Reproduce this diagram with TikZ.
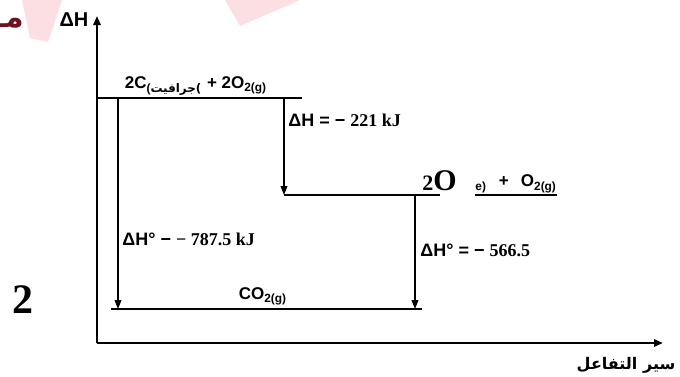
\documentclass[tikz,border=0pt]{standalone}
\usepackage{fontspec}
\setmainfont{Liberation Serif}
\setsansfont{Liberation Sans}
\newfontfamily\arabicfont[Script=Arabic]{DejaVu Sans}
\TeXXeTstate=1
\usepackage{tikz}
\usetikzlibrary{arrows.meta, positioning}
\definecolor{markRed}{HTML}{6E1020}
\definecolor{wmPink}{HTML}{F7B8C2}

\begin{document}
\begin{tikzpicture}[
    x=0.5pt, y=-0.5pt,
    level/.style={line width=0.7pt},
    axis/.style={-{Triangle[length=4.5pt, width=3.6pt]}, line width=1.3pt},
    drop/.style={-{Triangle[length=4.5pt, width=3.4pt]}, line width=0.6pt},
    lbl/.style={inner sep=0pt, font=\fontsize{9}{10}\selectfont},
    spec/.style={inner sep=0pt, font=\sffamily\bfseries\fontsize{8.5}{10}\selectfont},
]
\useasboundingbox (0,0) rectangle (680,376);

% Watermark
\fill[wmPink, opacity=0.45] (22,0) -- (62,0) -- (48,42) -- (30,38) -- cycle;
\fill[wmPink, opacity=0.45] (225,0) -- (240,26) -- (300,0) -- cycle;
\node[inner sep=0pt, anchor=east, text=markRed, font=\arabicfont\bfseries\fontsize{15}{15}\selectfont]
    (mark) at (24,23) {\beginR مـ\endR};
\node[inner sep=0pt, font=\rmfamily\bfseries\fontsize{21}{21}\selectfont] (num) at (23,300) {2};

% Axes
\coordinate (O) at (97,343);
\coordinate (ytop) at (97,16);
\coordinate (xend) at (663,343);
\draw[axis] (O) -- (ytop);
\draw[axis] (O) -- (xend);
\node[spec, font=\sffamily\bfseries\fontsize{10}{10}\selectfont] (dHaxis) at (74,20) {ΔH};
\node[inner sep=0pt, font=\arabicfont\bfseries\fontsize{8}{10}\selectfont]
    (path) at (626,365) {\beginR سير التفاعل\endR};

% Levels
\coordinate (r1) at (97,98);  \coordinate (r2) at (302,98);
\coordinate (i1) at (284,195); \coordinate (i2) at (440,195);
\coordinate (p1) at (111,309); \coordinate (p2) at (422,309);
\draw[level] (r1) -- (r2);
\draw[level] (i1) -- (i2);
\draw[level] (p1) -- (p2);

% Species
\node[spec] (react) at (196,86)
    {2C\textsubscript{(\arabicfont\beginR جرافيت\endR)} + 2O\textsubscript{2(g)}};
\node[inner sep=0pt, anchor=west, font=\rmfamily\bfseries] (co) at (422,181)
    {{\fontsize{11}{11}\selectfont 2}{\fontsize{15}{15}\selectfont O}};
\node[spec, anchor=south west] (oxy) at (475,193)
    {\textsubscript{e)}\hspace{6pt}+\hspace{6pt}O\textsubscript{2(g)}};
\draw[level] ([yshift=-1pt]oxy.south west) -- ([yshift=-1pt]oxy.south east);
\node[spec] (prod) at (263,296) {CO\textsubscript{2(g)}};

% Enthalpy changes
\coordinate (e1) at (118,309);
\coordinate (e2) at (284,195);
\coordinate (e3) at (415,309);
\draw[drop] (e1 |- r1) -- (e1);
\draw[drop] (e2 |- r1) -- (e2);
\draw[drop] (e3 |- i1) -- (e3);
\node[lbl, anchor=west] (dH1) at (288,120)
    {{\sffamily\bfseries ΔH = − }{\rmfamily\bfseries 221 kJ}};
\node[lbl, anchor=west] (dH2) at (122,239)
    {{\sffamily\bfseries ΔH° − }{\rmfamily\bfseries − 787.5 kJ}};
\node[lbl, anchor=west] (dH3) at (420,250)
    {{\sffamily\bfseries ΔH° = − }{\rmfamily\bfseries 566.5}};
\end{tikzpicture}
\end{document}
